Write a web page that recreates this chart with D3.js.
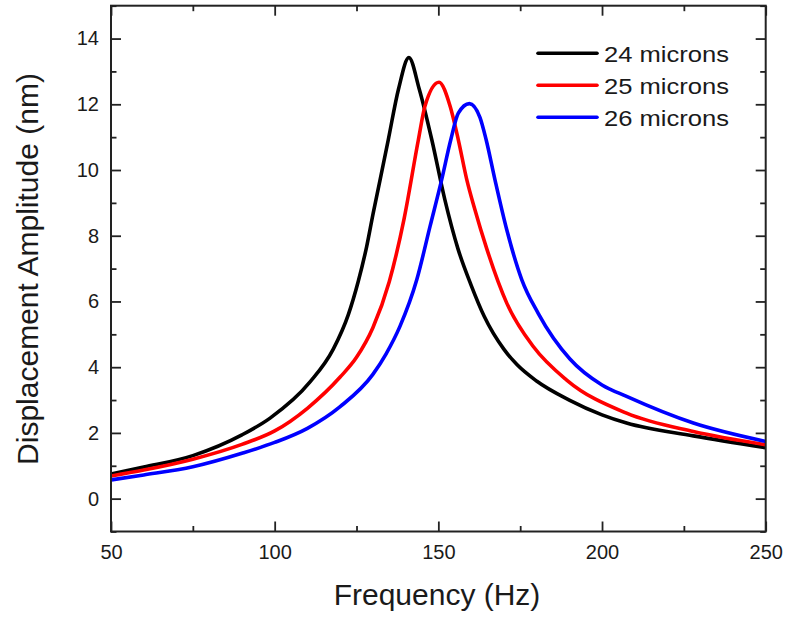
<!DOCTYPE html>
<html>
<head>
<meta charset="utf-8">
<script src="https://cdn.jsdelivr.net/npm/d3@7"></script>
<style>
  html, body { margin: 0; padding: 0; background: #fff; }
  svg { display: block; }
  text { font-family: "Liberation Sans", Arial, sans-serif; fill: #1a1a1a; }
</style>
</head>
<body>
<svg id="chart" width="786" height="619"></svg>
<script>
// ---- Data ----
const seriesNames = ["24 microns", "25 microns", "26 microns"];
const seriesColors = ["#000000", "#ff0000", "#0000ff"];

const freq24 = [50, 60, 75, 90, 98.6, 110.8, 117.9, 122.5, 125.5, 128.1, 130.1, 132.2, 134.7, 137.8, 141, 144.2, 148, 152, 156, 160, 164, 170, 174, 180, 190, 200, 207.5, 227.9, 250];
const amp24  = [0.75, 0.96, 1.31, 1.94, 2.45, 3.55, 4.55, 5.6, 6.6, 7.67, 8.69, 9.70, 10.92, 12.45, 13.42, 12.45, 10.92, 9.09, 7.6, 6.5, 5.55, 4.55, 4.08, 3.58, 3.0, 2.55, 2.30, 1.91, 1.55];

const freq25 = [50, 60, 75, 90, 100, 110, 120, 125, 130, 135, 139.5, 143.9, 145.9, 150.2, 153.6, 156.1, 158.7, 161, 164.8, 170.9, 179, 189.2, 207.5, 227.9, 250];
const amp25  = [0.69, 0.87, 1.20, 1.65, 2.06, 2.75, 3.70, 4.3, 5.2, 6.6, 8.5, 10.92, 11.94, 12.67, 11.94, 10.92, 9.7, 8.85, 7.6, 5.95, 4.63, 3.61, 2.60, 2.04, 1.64];

const freq26 = [50, 60, 75, 90, 100, 110, 120, 130, 134, 138.3, 143.4, 147.5, 151, 153.8, 156.1, 159.5, 162.7, 164.6, 167.3, 170.9, 175.5, 180.5, 190.2, 200, 207.5, 227.9, 250];
const amp26  = [0.57, 0.72, 0.97, 1.38, 1.71, 2.14, 2.80, 3.78, 4.4, 5.25, 6.66, 8.3, 9.7, 10.92, 11.73, 12.02, 11.6, 10.92, 9.7, 8.18, 6.66, 5.64, 4.25, 3.46, 3.11, 2.30, 1.74];

const xMajorTicks = [50, 100, 150, 200, 250];
const xMinorTicks = [75, 125, 175, 225];
const yMajorTicks = [0, 2, 4, 6, 8, 10, 12, 14];
const yMinorTicks = [-1, 1, 3, 5, 7, 9, 11, 13, 15];

const xTitle = "Frequency (Hz)";
const yTitle = "Displacement Amplitude (nm)";

// ---- Layout ----
const svg = d3.select("#chart");
const pLeft = 111, pRight = 765.7, pTop = 5.7, pBottom = 531.5;

const x = d3.scaleLinear().domain([50, 250]).range([pLeft, pRight]);
const y = d3.scaleLinear().domain([-1, 15]).range([pBottom, pTop]);

const series = [
  { name: seriesNames[0], color: seriesColors[0], pts: freq24.map((f, i) => [f, amp24[i]]) },
  { name: seriesNames[1], color: seriesColors[1], pts: freq25.map((f, i) => [f, amp25[i]]) },
  { name: seriesNames[2], color: seriesColors[2], pts: freq26.map((f, i) => [f, amp26[i]]) }
];

svg.append("clipPath").attr("id", "clip")
  .append("rect").attr("x", pLeft).attr("y", pTop).attr("width", pRight - pLeft).attr("height", pBottom - pTop);

// Curves
const line = d3.line().x(d => x(d[0])).y(d => y(d[1])).curve(d3.curveMonotoneX);
const g = svg.append("g").attr("clip-path", "url(#clip)");
series.forEach(s => {
  g.append("path").attr("d", line(s.pts))
    .attr("fill", "none").attr("stroke", s.color)
    .attr("stroke-width", 3.6).attr("stroke-linejoin", "round").attr("stroke-linecap", "round");
});

// Axes helpers
function styleAxis(sel) {
  sel.select(".domain").remove();
  sel.selectAll(".tick line").attr("stroke", "#222").attr("stroke-width", 1.8);
  sel.selectAll("text").style("font-size", "20px").attr("fill", "#1a1a1a");
}
const majorLen = 10, minorLen = 5.5;

// Bottom
svg.append("g").attr("transform", `translate(0,${pBottom})`)
  .call(d3.axisBottom(x).tickValues(xMajorTicks).tickSize(-majorLen).tickPadding(13.5).tickFormat(d3.format("d")))
  .call(styleAxis);
svg.append("g").attr("transform", `translate(0,${pBottom})`)
  .call(d3.axisBottom(x).tickValues(xMinorTicks).tickSize(-minorLen).tickFormat(""))
  .call(styleAxis);
// Top
svg.append("g").attr("transform", `translate(0,${pTop})`)
  .call(d3.axisTop(x).tickValues(xMajorTicks).tickSize(-majorLen).tickFormat(""))
  .call(styleAxis);
svg.append("g").attr("transform", `translate(0,${pTop})`)
  .call(d3.axisTop(x).tickValues(xMinorTicks).tickSize(-minorLen).tickFormat(""))
  .call(styleAxis);
// Left
svg.append("g").attr("transform", `translate(${pLeft},0)`)
  .call(d3.axisLeft(y).tickValues(yMajorTicks).tickSize(-majorLen).tickPadding(12).tickFormat(d3.format("d")))
  .call(styleAxis);
svg.append("g").attr("transform", `translate(${pLeft},0)`)
  .call(d3.axisLeft(y).tickValues(yMinorTicks).tickSize(-minorLen).tickFormat(""))
  .call(styleAxis);
// Right
svg.append("g").attr("transform", `translate(${pRight},0)`)
  .call(d3.axisRight(y).tickValues(yMajorTicks).tickSize(-majorLen).tickFormat(""))
  .call(styleAxis);
svg.append("g").attr("transform", `translate(${pRight},0)`)
  .call(d3.axisRight(y).tickValues(yMinorTicks).tickSize(-minorLen).tickFormat(""))
  .call(styleAxis);

// Frame
svg.append("rect").attr("x", pLeft).attr("y", pTop).attr("width", pRight - pLeft).attr("height", pBottom - pTop)
  .attr("fill", "none").attr("stroke", "#222").attr("stroke-width", 2);

// Titles
svg.append("text").attr("x", (333 + 541) / 2).attr("y", 605)
  .attr("text-anchor", "middle").style("font-size", "30px").text(xTitle);
svg.append("text").attr("transform", `translate(38,269) rotate(-90)`)
  .attr("text-anchor", "middle").style("font-size", "30px").text(yTitle);

// Legend
const legendX1 = 538, legendX2 = 597, legendY0 = 53.3, legendStep = 32;
series.forEach((s, i) => {
  const ly = legendY0 + i * legendStep;
  svg.append("line").attr("x1", legendX1).attr("x2", legendX2).attr("y1", ly).attr("y2", ly)
    .attr("stroke", s.color).attr("stroke-width", 3.6).attr("stroke-linecap", "round");
  svg.append("text").attr("x", 604).attr("y", ly + 8.5)
    .style("font-size", "22px")
    .attr("textLength", 125).attr("lengthAdjust", "spacingAndGlyphs")
    .text(s.name);
});
</script>
</body>
</html>
